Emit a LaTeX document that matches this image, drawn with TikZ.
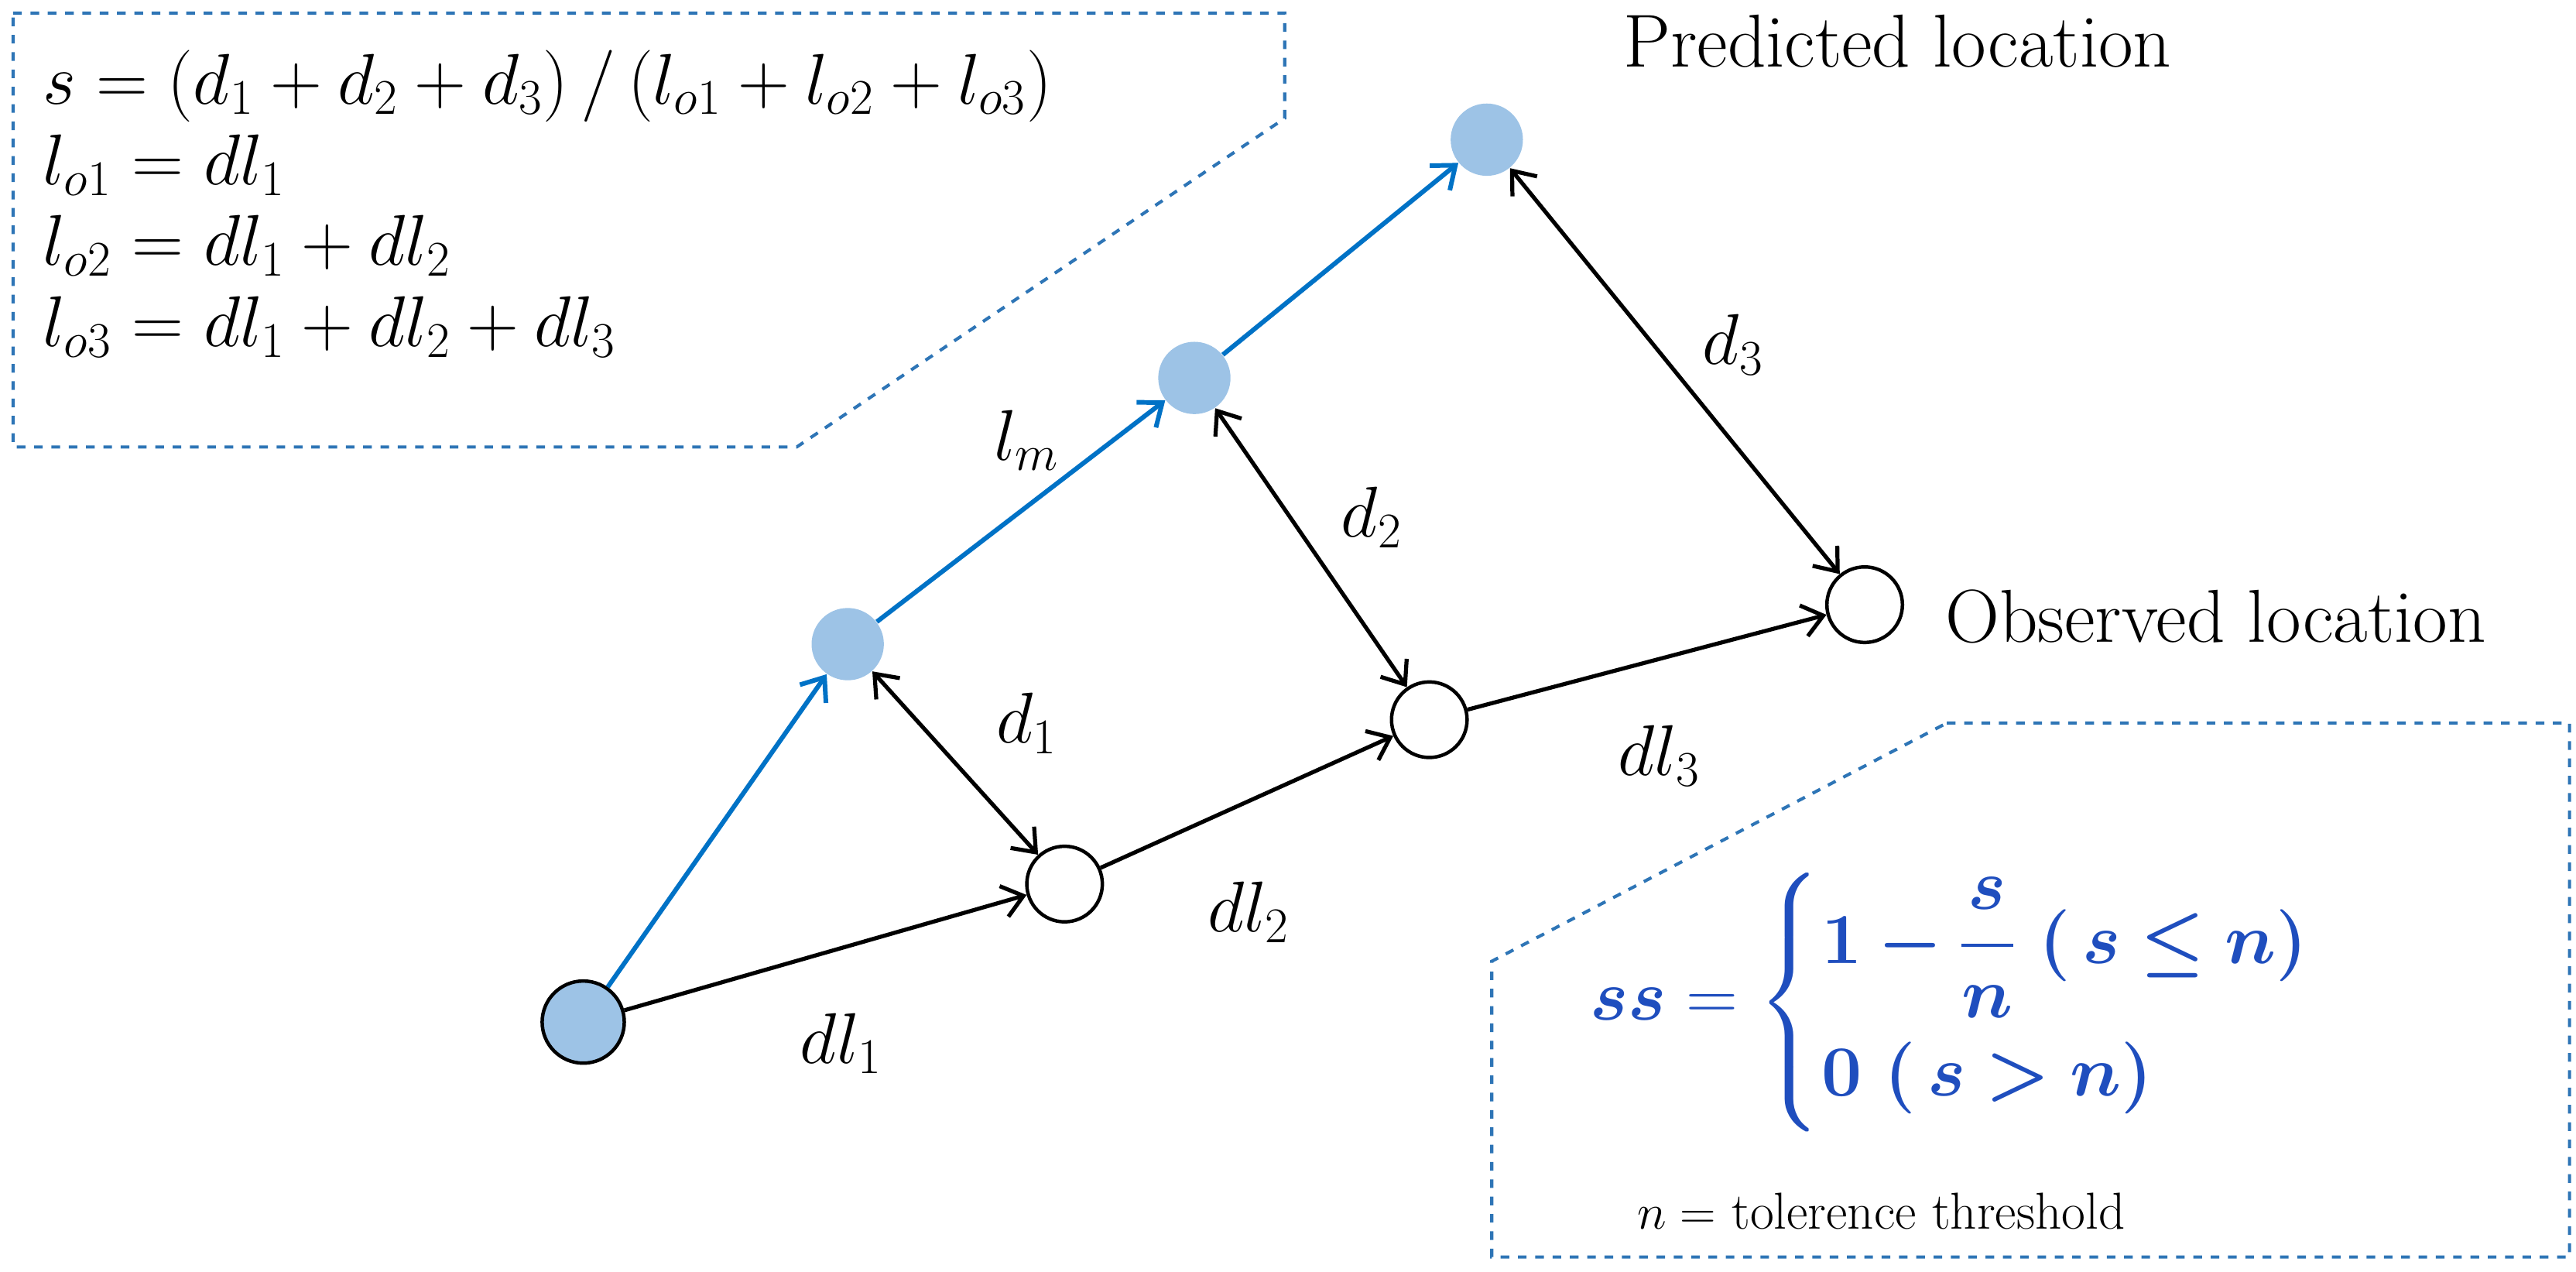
\documentclass[tikz,border=0pt]{standalone}
\usepackage{amsmath,bm}
\usetikzlibrary{arrows.meta}
\definecolor{lblue}{RGB}{157,195,230}
\definecolor{lineblue}{RGB}{0,114,198}
\definecolor{dashblue}{RGB}{46,117,182}
\definecolor{fblue}{RGB}{31,78,190}
\begin{document}
\begin{tikzpicture}[x=0.02cm,y=-0.02cm,
  obs/.style={circle,draw,line width=1.2pt,fill=white,minimum size=0.92cm,inner sep=0},
  pred/.style={circle,fill=lblue,minimum size=0.88cm,inner sep=0},
  startn/.style={circle,draw,line width=1.2pt,fill=lblue,minimum size=1cm,inner sep=0},
  blk/.style={line width=1.4pt,-{Straight Barb[length=7pt,width=11pt]}},
  blu/.style={line width=1.6pt,lineblue,-{Straight Barb[length=7pt,width=11pt]}},
  dbl/.style={line width=1.4pt,{Straight Barb[length=7pt,width=11pt]}-{Straight Barb[length=7pt,width=11pt]}},
  box/.style={dashed,dashblue,line width=1.1pt},
  lab/.style={font=\fontsize{25}{30}\selectfont},
  txt/.style={font=\fontsize{26}{30}\selectfont}]
\useasboundingbox (0,0) rectangle (1568,774);
\node[startn] (s) at (355,622) {};
\node[obs] (o1) at (648,538) {};
\node[obs] (o2) at (870,438) {};
\node[obs] (o3) at (1135,368) {};
\node[pred] (p1) at (516,392) {};
\node[pred] (p2) at (727,230) {};
\node[pred] (p3) at (905,85) {};
\draw[blk] (s) -- (o1);
\draw[blk] (o1) -- (o2);
\draw[blk] (o2) -- (o3);
\draw[blu] (s) -- (p1);
\draw[blu] (p1) -- (p2);
\draw[blu] (p2) -- (p3);
\draw[dbl] (p1) -- (o1);
\draw[dbl] (p2) -- (o2);
\draw[dbl] (p3) -- (o3);
\node[lab] (ld1) at (625,440) {$d_1$};
\node[lab] (ld2) at (835,315) {$d_2$};
\node[lab] (ld3) at (1055,210) {$d_3$};
\node[lab] (ldl1) at (512,635) {$dl_1$};
\node[lab] (ldl2) at (760,555) {$dl_2$};
\node[lab] (ldl3) at (1010,460) {$dl_3$};
\node[lab] (llm) at (625,268) {$l_m$};
\node[txt] (pl) at (1155,25) {Predicted location};
\node[txt,anchor=west] (ol) at (1178,375) {Observed location};
\draw[box] (8,8) -- (782,8) -- (782,72) -- (485,272) -- (8,272) -- cycle;
\node[lab,anchor=north west,align=left,inner sep=0] (eq1) at (26,30) {%
$s=(d_1+d_2+d_3)\,/\,(l_{o1}+l_{o2}+l_{o3})$\\[-2pt]
$l_{o1}=dl_1$\\[-2pt]
$l_{o2}=dl_1+dl_2$\\[-2pt]
$l_{o3}=dl_1+dl_2+dl_3$};
\draw[box] (1185,440) -- (1564,440) -- (1564,765) -- (908,765) -- (908,585) -- cycle;
\node[font=\fontsize{26}{30}\selectfont,text=fblue] (eq2) at (1210,610) {$\boldsymbol{ss}=\begin{cases}\boldsymbol{1-\dfrac{s}{n}\ (\,s\le n)}\\[10pt] \boldsymbol{0\ (\,s>n)}\end{cases}$};
\node[font=\fontsize{18}{22}\selectfont] (thr) at (1145,737) {$n=$ tolerence threshold};
\end{tikzpicture}
\end{document}
